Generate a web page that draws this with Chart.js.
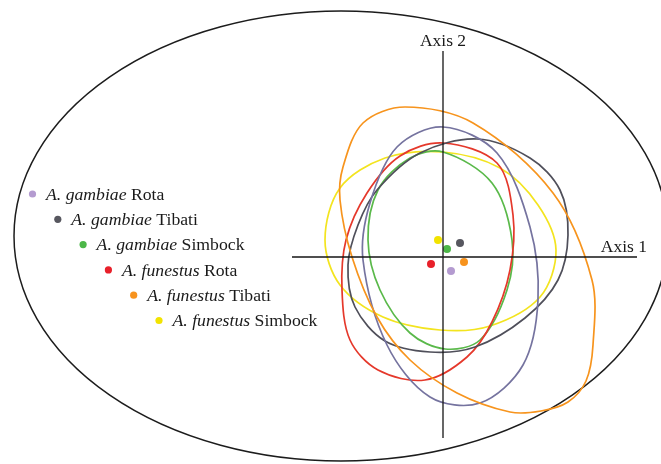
<!DOCTYPE html>
<html>
<head>
<meta charset="utf-8">
<script src="https://cdn.jsdelivr.net/npm/chart.js@4.4.1/dist/chart.umd.min.js"></script>
<style>
  html, body { margin: 0; padding: 0; background: #ffffff; }
  #wrap { width: 661px; height: 464px; }
</style>
</head>
<body>
<div id="wrap"><canvas id="cva" width="661" height="464"></canvas></div>
<script>
// Groups: species (italic) and collection site
const species = ['A. gambiae', 'A. gambiae', 'A. gambiae', 'A. funestus', 'A. funestus', 'A. funestus'];
const sites = ['Rota', 'Tibati', 'Simbock', 'Rota', 'Tibati', 'Simbock'];
const dotColors = ['#b49bd0', '#57575f', '#4cb748', '#e8202a', '#f7931e', '#f2e300'];
const lineColors = ['#75739f', '#4f4f5a', '#5ab94a', '#e5382b', '#f7941d', '#f3e41f'];

// Group centroids on the first two canonical axes
const centroidAxis1 = [0.16, 0.34, 0.08, -0.24, 0.42, -0.10];
const centroidAxis2 = [-0.28, 0.28, 0.16, -0.14, -0.10, 0.34];

// Confidence contours for each group, [axis1, axis2] pairs going clockwise
const contourGambiaeRota = [[0,2.6],[1.08,2.08],[1.74,0.6],[1.9,-0.86],[1.6,-2.16],[0.74,-2.92],[-0.26,-2.8],[-1.12,-1.76],[-1.6,-0.06],[-1.46,1.08],[-0.92,2.2]];
const contourGambiaeTibati = [[0.68,2.36],[1.74,1.98],[2.34,1.34],[2.5,0.44],[2.3,-0.46],[1.64,-1.22],[0.64,-1.8],[-0.26,-1.9],[-1.16,-1.68],[-1.76,-1.0],[-1.9,-0.16],[-1.7,0.64],[-1.32,1.34],[-0.46,2.08]];
const contourGambiaeSimbock = [[0,2.1],[0.98,1.48],[1.38,0.34],[1.28,-0.66],[0.74,-1.66],[0.04,-1.84],[-0.66,-1.52],[-1.26,-0.66],[-1.5,0.34],[-1.3,1.34],[-0.66,1.98]];
const contourFunestusRota = [[0,2.28],[1.08,1.88],[1.4,0.84],[1.34,-0.26],[0.98,-1.3],[0.48,-2.0],[-0.36,-2.46],[-1.3,-2.26],[-1.86,-1.66],[-2.02,-0.66],[-1.94,0.34],[-1.52,1.28],[-0.86,2.02]];
const contourFunestusTibati = [[-0.76,3.0],[0.6,2.68],[2.2,1.28],[2.98,-0.46],[3.0,-1.76],[2.86,-2.48],[2.5,-2.9],[1.96,-3.08],[1.34,-3.1],[0.28,-2.72],[-0.66,-2.06],[-1.32,-1.2],[-1.82,0],[-2.06,1.14],[-2.0,1.8],[-1.6,2.68]];
const contourFunestusSimbock = [[0,2.1],[1.14,1.78],[1.9,1.04],[2.26,0.14],[1.94,-0.8],[0.94,-1.38],[-0.06,-1.46],[-1.2,-1.2],[-2.06,-0.56],[-2.36,0.34],[-2.06,1.38],[-1.16,1.98]];
const contours = [contourGambiaeRota, contourGambiaeTibati, contourGambiaeSimbock, contourFunestusRota, contourFunestusTibati, contourFunestusSimbock];

// Axis extents and labels
const axis1Extent = [-3.02, 3.88];
const axis2Extent = [-3.62, 4.12];
const axisLabels = ['Axis 1', 'Axis 2'];

// Surrounding frame ellipse (centre and semi-axes, in axis units)
const frameCentre = [-2.04, 0.42];
const frameRadii = [6.54, 4.5];

const SERIF = '"Liberation Serif", "Times New Roman", serif';

// A closed smooth curve: wrap one point on each side so the spline
// is continuous at the join, then hide the two wrap-around segments.
function closedCurve(pts, color) {
  const n = pts.length;
  const wrapped = [pts[n - 1], ...pts, pts[0], pts[1]].map(p => ({ x: p[0], y: p[1] }));
  return {
    type: 'line',
    data: wrapped,
    showLine: true,
    borderColor: color,
    borderWidth: 1.7,
    pointRadius: 0,
    tension: 0.33,
    fill: false,
    segment: {
      borderColor: ctx => (ctx.p0DataIndex === 0 || ctx.p0DataIndex === n + 1) ? 'rgba(0,0,0,0)' : undefined
    }
  };
}

const drawOrder = [4, 0, 1, 3, 2, 5];
const datasets = [];
// axes
datasets.push({
  type: 'line',
  data: [{ x: axis1Extent[0], y: 0 }, { x: axis1Extent[1], y: 0 }],
  borderColor: '#151515', borderWidth: 1.3, pointRadius: 0, tension: 0
});
datasets.push({
  type: 'line',
  data: [{ x: 0, y: axis2Extent[0] }, { x: 0, y: axis2Extent[1] }],
  borderColor: '#151515', borderWidth: 1.3, pointRadius: 0, tension: 0
});
drawOrder.forEach(i => datasets.push(closedCurve(contours[i], lineColors[i])));
// centroids
datasets.push({
  type: 'scatter',
  data: centroidAxis1.map((v, i) => ({ x: v, y: centroidAxis2[i] })),
  pointRadius: 4,
  pointBackgroundColor: dotColors,
  pointBorderWidth: 0,
  showLine: false
});

const framePlugin = {
  id: 'frame',
  beforeDatasetsDraw(chart) {
    const { ctx, scales: { x, y } } = chart;
    const cx = x.getPixelForValue(frameCentre[0]);
    const cy = y.getPixelForValue(frameCentre[1]);
    const rx = x.getPixelForValue(frameCentre[0] + frameRadii[0]) - cx;
    const ry = cy - y.getPixelForValue(frameCentre[1] + frameRadii[1]);
    ctx.save();
    ctx.beginPath();
    ctx.ellipse(cx, cy, rx, ry, 0, 0, Math.PI * 2);
    ctx.strokeStyle = '#1c1c1c';
    ctx.lineWidth = 1.5;
    ctx.stroke();
    ctx.restore();
  }
};

const labelsPlugin = {
  id: 'labels',
  afterDatasetsDraw(chart) {
    const { ctx, scales: { x, y } } = chart;
    ctx.save();
    ctx.fillStyle = '#1a1a1a';
    ctx.font = '17.5px ' + SERIF;
    ctx.textBaseline = 'alphabetic';
    // Axis 1 label, just above the right end of the horizontal axis
    ctx.textAlign = 'right';
    ctx.fillText(axisLabels[0], x.getPixelForValue(axis1Extent[1]) + 10, y.getPixelForValue(0) - 5);
    // Axis 2 label, centred above the vertical axis
    ctx.textAlign = 'center';
    ctx.fillText(axisLabels[1], x.getPixelForValue(0), y.getPixelForValue(axis2Extent[1]) - 5);

    // Staggered legend
    const x0 = 32.5, y0 = 194, step = 25.3;
    ctx.textAlign = 'left';
    species.forEach((sp, i) => {
      const dx = x0 + i * step, dy = y0 + i * step;
      ctx.beginPath();
      ctx.arc(dx, dy, 3.6, 0, Math.PI * 2);
      ctx.fillStyle = dotColors[i];
      ctx.fill();
      ctx.fillStyle = '#1a1a1a';
      ctx.font = 'italic 17.7px ' + SERIF;
      const tx = dx + 13.5, ty = dy + 5.8;
      ctx.fillText(sp, tx, ty);
      const w = ctx.measureText(sp + ' ').width;
      ctx.font = '17.7px ' + SERIF;
      ctx.fillText(sites[i], tx + w, ty);
    });
    ctx.restore();
  }
};

new Chart(document.getElementById('cva'), {
  type: 'line',
  data: { datasets },
  options: {
    responsive: false,
    animation: false,
    devicePixelRatio: 1,
    layout: { padding: 0, autoPadding: false },
    scales: {
      x: { type: 'linear', min: -8.86, max: 4.36, display: false },
      y: { type: 'linear', min: -4.14, max: 5.14, display: false }
    },
    plugins: { legend: { display: false }, tooltip: { enabled: false } },
    elements: { line: { capBezierPoints: false } }
  },
  plugins: [framePlugin, labelsPlugin]
});
</script>
</body>
</html>
